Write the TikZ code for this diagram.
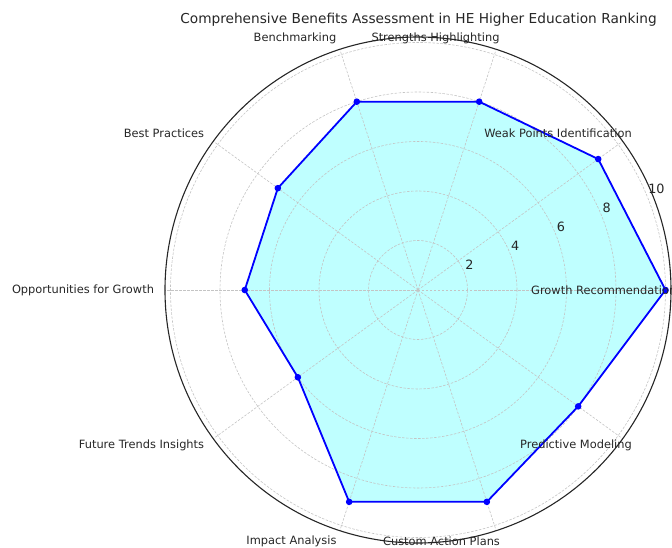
\documentclass[tikz,border=0pt]{standalone}
\usepackage{fontspec}
\setmainfont{DejaVu Sans}
\usetikzlibrary{calc, positioning}
\definecolor{radarblue}{HTML}{0000FF}
\definecolor{radarfill}{HTML}{BFFFFF}
\definecolor{radargrid}{HTML}{C4C4C4}
\definecolor{radartext}{HTML}{262626}

\tikzset{
  gridline/.style={radargrid, line width=0.6pt, dash pattern=on 2.5pt off 1.5pt},
  catlabel/.style={text=radartext, font=\fontsize{11.4}{13}\selectfont, inner sep=0pt},
  ticklabel/.style={text=radartext, font=\fontsize{12.8}{15}\selectfont, anchor=south west, inner sep=1.5pt},
  datadot/.style={circle, fill=radarblue, inner sep=0pt, minimum size=6.6pt}
}

\begin{document}
\begin{tikzpicture}[x=1pt, y=1pt]
            \useasboundingbox (-418,-258) rectangle (254,290);

            % Scores (one unit = 24.75)
            \coordinate (growth) at (0:247.5);
            \coordinate (weak) at (36:222.75);
            \coordinate (strength) at (72:198);
            \coordinate (bench) at (108:198);
            \coordinate (best) at (144:173.25);
            \coordinate (opport) at (180:173.25);
            \coordinate (future) at (216:148.5);
            \coordinate (impact) at (252:222.75);
            \coordinate (custom) at (288:222.75);
            \coordinate (predict) at (324:198);
            \coordinate (centre) at (0,0);

            % Filled area
            \fill[radarfill] (growth) -- (weak) -- (strength) -- (bench) -- (best)
                -- (opport) -- (future) -- (impact) -- (custom) -- (predict) -- cycle;

            % Grid
            \foreach \r in {2,4,6,8,10}
                \draw[gridline] (centre) circle ({\r*24.75});
            \foreach \a in {0,36,...,324}
                \draw[gridline] (centre) -- (\a:253);

            % Outline and points
            \draw[radarblue, line width=1.8pt, line join=round] (growth) -- (weak) -- (strength)
                -- (bench) -- (best) -- (opport) -- (future) -- (impact) -- (custom) -- (predict) -- cycle;
            \foreach \p in {growth,weak,strength,bench,best,opport,future,impact,custom,predict}
                \node[datadot] at (\p) {};

            % Outer circle
            \draw[black!85, line width=1.1pt] (centre) circle (253);

            % Radial ticks
            \foreach \r in {2,4,6,8,10}
                \node[ticklabel] (tick\r) at (22.5:{\r*24.75}) {\r};

            % Category labels
            \node[catlabel, anchor=west] (growthlbl) at (113,0) {Growth Recommendations};
            \node[catlabel] (weaklbl) at (140,157) {Weak Points Identification};
            \node[catlabel] (strengthlbl) at (17.5,252) {Strengths Highlighting};
            \node[catlabel] (benchlbl) at (-123,252) {Benchmarking};
            \node[catlabel] (bestlbl) at (-254,157) {Best Practices};
            \node[catlabel] (opportlbl) at (-335,0) {Opportunities for Growth};
            \node[catlabel] (futurelbl) at (-276.5,-155) {Future Trends Insights};
            \node[catlabel] (impactlbl) at (-126.5,-251) {Impact Analysis};
            \node[catlabel] (customlbl) at (23.5,-251) {Custom Action Plans};
            \node[catlabel] (predictlbl) at (158,-155) {Predictive Modeling};

            % Title
            \node[text=radartext, font=\fontsize{13.7}{16}\selectfont] (title) at (0.5,270)
                {Comprehensive Benefits Assessment in HE Higher Education Ranking};
\end{tikzpicture}
\end{document}
